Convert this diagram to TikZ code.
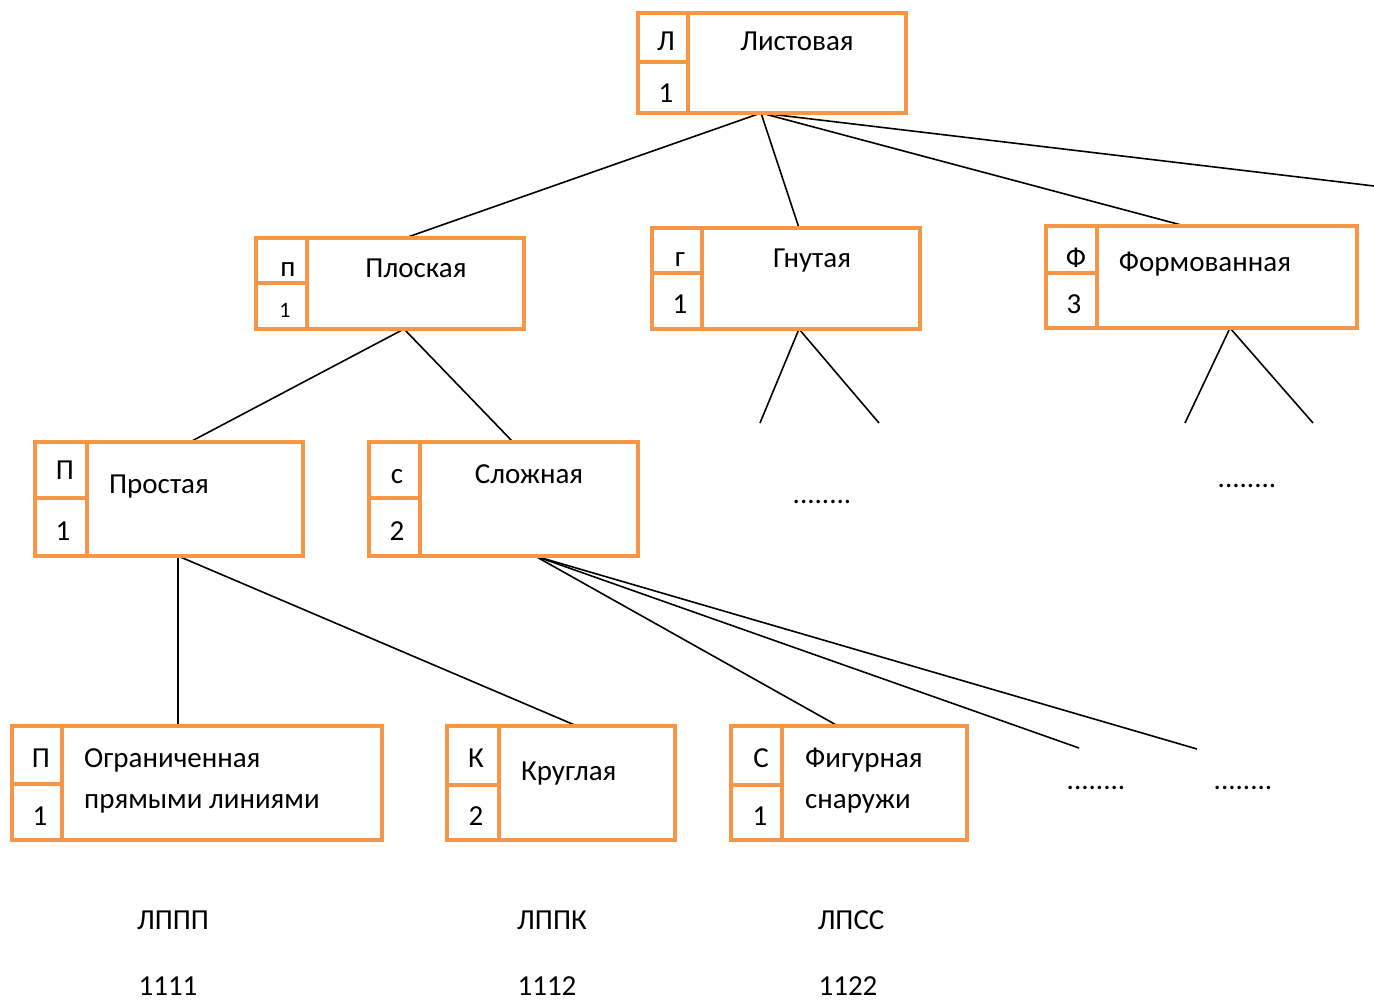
\documentclass[tikz,border=0pt]{standalone}
\usepackage{fontspec}
\setmainfont{Carlito}
\usetikzlibrary{backgrounds}
\definecolor{boxorange}{HTML}{F79646}

% #1 name, #2-#5 frame corners (x1,y1,x2,y2), #6 x of the cell divider, #7 y of the cell divider
\newcommand\CatFrame[7]{%
  \node[frame, minimum width={(#4-#2)*1pt}, minimum height={(#5-#3)*1pt},
        anchor=north west] (#1) at (#2,#3) {};
  \draw[framerule] (#6,#3) -- (#6,#5);
  \draw[framerule] (#2,#7) -- (#6,#7);
}

\begin{document}
\begin{tikzpicture}[x=1pt, y=-1pt,
  frame/.style={draw=boxorange, line width=4pt, inner sep=0pt, outer sep=0pt, fill=white},
  framerule/.style={draw=boxorange, line width=4pt},
  link/.style={draw=black, line width=1.6pt},
  lbl/.style={inner sep=0pt, anchor=base, font=\fontsize{29}{34}\selectfont},
  lblw/.style={inner sep=0pt, anchor=base west, font=\fontsize{29}{34}\selectfont},
  small/.style={inner sep=0pt, anchor=base, font=\fontsize{22}{26}\selectfont}]
\useasboundingbox (0,0) rectangle (1374,1000);

% frames
\CatFrame{list}{638}{13}{906}{113}{688}{62}
\CatFrame{plosk}{256}{238}{524}{329}{307}{283}
\CatFrame{gnut}{652}{228}{920}{329}{702}{273}
\CatFrame{form}{1046}{226}{1357}{328}{1097}{273}
\CatFrame{prost}{35}{442}{303}{556}{87}{498}
\CatFrame{slozh}{369}{442}{638}{556}{420}{498}
\CatFrame{ogr}{12}{726}{382}{840}{62}{784}
\CatFrame{krug}{447}{726}{675}{840}{499}{785}
\CatFrame{figur}{731}{726}{967}{840}{782}{785}

% texts in the frames
\node[lbl] (listA) at (666,51) {Л};
\node[lbl] (listB) at (666,103) {1};
\node[lbl] (listT) at (797,51) {Листовая};

\node[lbl] (ploskA) at (288,277) {п};
\node[small] (ploskB) at (285,318) {1};
\node[lbl] (ploskT) at (416,278) {Плоская};

\node[lbl] (gnutA) at (680,267) {г};
\node[lbl] (gnutB) at (680,314) {1};
\node[lbl] (gnutT) at (812,268) {Гнутая};

\node[lbl] (formA) at (1076,268) {Ф};
\node[lbl] (formB) at (1074,314) {3};
\node[lbl] (formT) at (1205,272) {Формованная};

\node[lbl] (prostA) at (65,479) {П};
\node[lbl] (prostB) at (63,540) {1};
\node[lblw] (prostT) at (109,493) {Простая};

\node[lbl] (slozhA) at (397,483) {с};
\node[lbl] (slozhB) at (397,540) {2};
\node[lbl] (slozhT) at (529,483) {Сложная};

\node[lbl] (ogrA) at (41,767) {П};
\node[lbl] (ogrB) at (40,825) {1};
\node[lblw] (ogrT) at (84,767) {Ограниченная};
\node[lblw] (ogrU) at (84,808) {прямыми линиями};

\node[lbl] (krugA) at (476,767) {К};
\node[lbl] (krugB) at (476,825) {2};
\node[lblw] (krugT) at (521,780) {Круглая};

\node[lbl] (figurA) at (761,767) {С};
\node[lbl] (figurB) at (760,825) {1};
\node[lblw] (figurT) at (805,767) {Фигурная};
\node[lblw] (figurU) at (805,808) {снаружи};

% continuation marks
\node[lbl] (dotsG) at (822,503) {........};
\node[lbl] (dotsF) at (1247,487) {........};
\node[lbl] (dotsS1) at (1096,789) {........};
\node[lbl] (dotsS2) at (1243,789) {........};

% resulting codes
\node[lbl] (codeA) at (173,929) {ЛППП};
\node[lbl] (numA) at (168,995) {1111};
\node[lbl] (codeB) at (552,929) {ЛППК};
\node[lbl] (numB) at (547,995) {1112};
\node[lbl] (codeC) at (851,929) {ЛПСС};
\node[lbl] (numC) at (848,995) {1122};

% free ends of the open branches
\coordinate (listEnd) at (1374,186);
\coordinate (gnutL) at (760,423);
\coordinate (gnutR) at (879,423);
\coordinate (formL) at (1185,423);
\coordinate (formR) at (1313,423);
\coordinate (slozhM) at (1079,748);
\coordinate (slozhR) at (1197,749);

% connectors
\begin{scope}[on background layer]
\draw[link] ([xshift=-11pt]list.south) -- ([xshift=15pt]plosk.north);
\draw[link] ([xshift=-11pt]list.south) -- ([xshift=13pt]gnut.north);
\draw[link] ([xshift=-11pt]list.south) -- ([xshift=-16.5pt]form.north);
\draw[link] ([xshift=-11pt]list.south) -- (listEnd);

\draw[link] ([xshift=14pt]plosk.south) -- ([xshift=21pt]prost.north);
\draw[link] ([xshift=14pt]plosk.south) -- ([xshift=9.5pt]slozh.north);

\draw[link] ([xshift=13pt]gnut.south) -- (gnutL);
\draw[link] ([xshift=13pt]gnut.south) -- (gnutR);

\draw[link] ([xshift=28.5pt]form.south) -- (formL);
\draw[link] ([xshift=28.5pt]form.south) -- (formR);

\draw[link] ([xshift=9pt]prost.south) -- ([xshift=-19pt]ogr.north);
\draw[link] ([xshift=9pt]prost.south) -- ([xshift=16pt]krug.north);

\draw[link] ([xshift=31.5pt]slozh.south) -- ([xshift=-11pt]figur.north);
\draw[link] ([xshift=31.5pt]slozh.south) -- (slozhM);
\draw[link] ([xshift=31.5pt]slozh.south) -- (slozhR);
\end{scope}
\end{tikzpicture}
\end{document}
